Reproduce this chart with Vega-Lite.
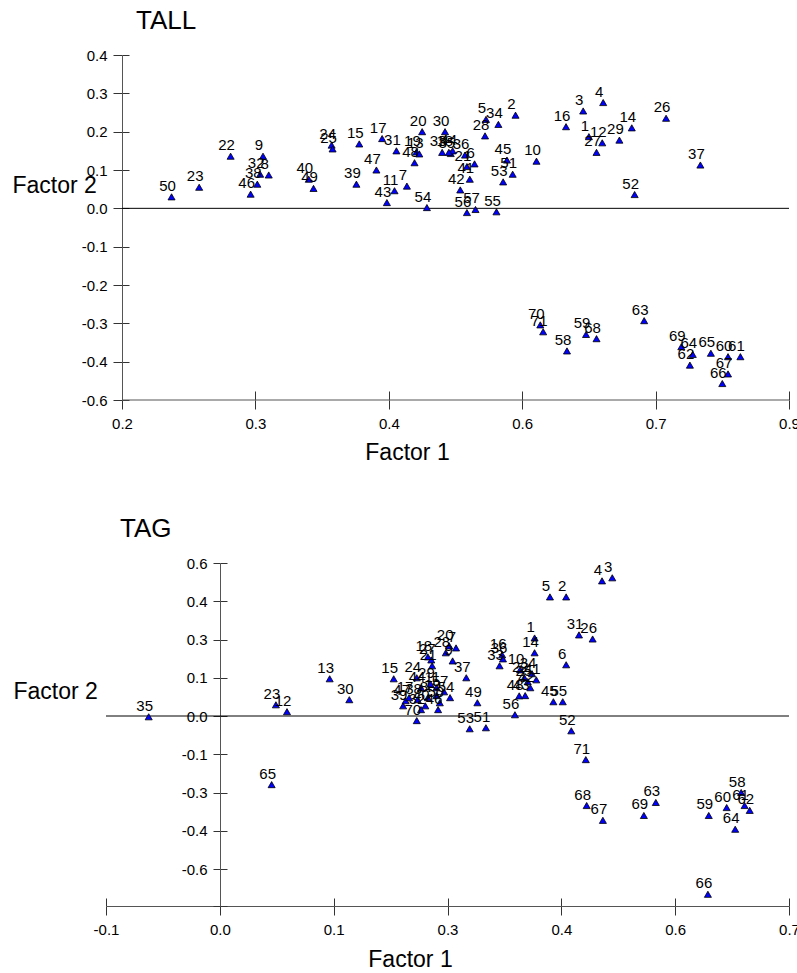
{
  "$schema": "https://vega.github.io/schema/vega-lite/v6.json",
  "background": "white",
  "padding": {"left": 12, "top": 8, "right": 4, "bottom": 2},
  "config": {
    "font": "Liberation Sans",
    "view": {"stroke": null},
    "axis": {
      "grid": false,
      "labelFont": "Liberation Sans",
      "labelFontSize": 15,
      "labelColor": "#000000",
      "titleFont": "Liberation Sans",
      "titleFontSize": 23,
      "titleFontWeight": "normal",
      "titleColor": "#000000",
      "titleAngle": 0,
      "titleBaseline": "middle",
      "domainColor": "#555555",
      "tickColor": "#333333",
      "labelFlush": false,
      "labelOverlap": false,
      "labelBound": false
    },
    "title": {"font": "Liberation Sans", "fontSize": 26, "fontWeight": "normal", "anchor": "start", "frame": "group", "baseline": "alphabetic", "offset": 14, "color": "#000000"}
  },
  "datasets": {
    "tall": [
      {"id": "50", "x": 0.252, "y": 0.030},
      {"id": "23", "x": 0.281, "y": 0.055},
      {"id": "22", "x": 0.314, "y": 0.136},
      {"id": "9", "x": 0.348, "y": 0.136},
      {"id": "32", "x": 0.345, "y": 0.089},
      {"id": "8", "x": 0.354, "y": 0.087},
      {"id": "38", "x": 0.342, "y": 0.063},
      {"id": "46", "x": 0.335, "y": 0.037},
      {"id": "24", "x": 0.420, "y": 0.165},
      {"id": "25", "x": 0.421, "y": 0.155},
      {"id": "15", "x": 0.449, "y": 0.168},
      {"id": "17", "x": 0.473, "y": 0.182},
      {"id": "31", "x": 0.488, "y": 0.150},
      {"id": "19", "x": 0.509, "y": 0.147},
      {"id": "13", "x": 0.512, "y": 0.142},
      {"id": "48", "x": 0.507, "y": 0.119},
      {"id": "47", "x": 0.467, "y": 0.100},
      {"id": "40", "x": 0.396, "y": 0.076},
      {"id": "49", "x": 0.401, "y": 0.052},
      {"id": "39", "x": 0.446, "y": 0.063},
      {"id": "11", "x": 0.486, "y": 0.046},
      {"id": "7", "x": 0.499, "y": 0.058},
      {"id": "43", "x": 0.478, "y": 0.015},
      {"id": "54", "x": 0.520, "y": 0.002},
      {"id": "20", "x": 0.515, "y": 0.200},
      {"id": "30", "x": 0.539, "y": 0.200},
      {"id": "33", "x": 0.536, "y": 0.146},
      {"id": "35", "x": 0.545, "y": 0.143},
      {"id": "44", "x": 0.547, "y": 0.150},
      {"id": "18", "x": 0.543, "y": 0.146},
      {"id": "36", "x": 0.560, "y": 0.139},
      {"id": "21", "x": 0.562, "y": 0.109},
      {"id": "6", "x": 0.570, "y": 0.116},
      {"id": "41", "x": 0.565, "y": 0.076},
      {"id": "42", "x": 0.555, "y": 0.048},
      {"id": "5", "x": 0.582, "y": 0.232},
      {"id": "34", "x": 0.595, "y": 0.219},
      {"id": "2", "x": 0.613, "y": 0.243},
      {"id": "28", "x": 0.581, "y": 0.189},
      {"id": "45", "x": 0.604, "y": 0.126},
      {"id": "51", "x": 0.610, "y": 0.089},
      {"id": "53", "x": 0.600, "y": 0.069},
      {"id": "10", "x": 0.635, "y": 0.123},
      {"id": "56", "x": 0.562, "y": -0.011},
      {"id": "57", "x": 0.571, "y": -0.003},
      {"id": "55", "x": 0.593, "y": -0.009},
      {"id": "16", "x": 0.666, "y": 0.213},
      {"id": "3", "x": 0.684, "y": 0.254},
      {"id": "4", "x": 0.705, "y": 0.276},
      {"id": "1", "x": 0.690, "y": 0.187},
      {"id": "12", "x": 0.704, "y": 0.171},
      {"id": "27", "x": 0.698, "y": 0.146},
      {"id": "29", "x": 0.722, "y": 0.178},
      {"id": "14", "x": 0.735, "y": 0.210},
      {"id": "26", "x": 0.771, "y": 0.235},
      {"id": "37", "x": 0.807, "y": 0.113},
      {"id": "52", "x": 0.738, "y": 0.036},
      {"id": "70", "x": 0.639, "y": -0.304},
      {"id": "71", "x": 0.642, "y": -0.322},
      {"id": "58", "x": 0.667, "y": -0.372},
      {"id": "59", "x": 0.687, "y": -0.329},
      {"id": "68", "x": 0.698, "y": -0.340},
      {"id": "63", "x": 0.748, "y": -0.293},
      {"id": "69", "x": 0.787, "y": -0.361},
      {"id": "64", "x": 0.799, "y": -0.381},
      {"id": "62", "x": 0.796, "y": -0.409},
      {"id": "65", "x": 0.818, "y": -0.378},
      {"id": "60", "x": 0.836, "y": -0.387},
      {"id": "61", "x": 0.849, "y": -0.387},
      {"id": "67", "x": 0.836, "y": -0.432},
      {"id": "66", "x": 0.830, "y": -0.457}
    ],
    "tag": [
      {"id": "35", "x": -0.050, "y": -0.003},
      {"id": "23", "x": 0.099, "y": 0.044},
      {"id": "12", "x": 0.112, "y": 0.017},
      {"id": "13", "x": 0.162, "y": 0.146},
      {"id": "30", "x": 0.185, "y": 0.064},
      {"id": "65", "x": 0.094, "y": -0.269},
      {"id": "15", "x": 0.237, "y": 0.146},
      {"id": "39", "x": 0.248, "y": 0.040},
      {"id": "47", "x": 0.251, "y": 0.060},
      {"id": "17", "x": 0.255, "y": 0.072},
      {"id": "24", "x": 0.264, "y": 0.150},
      {"id": "38", "x": 0.265, "y": 0.064},
      {"id": "70", "x": 0.264, "y": -0.018},
      {"id": "20", "x": 0.302, "y": 0.275},
      {"id": "7", "x": 0.310, "y": 0.267},
      {"id": "28", "x": 0.298, "y": 0.248},
      {"id": "9", "x": 0.306, "y": 0.216},
      {"id": "18", "x": 0.277, "y": 0.232},
      {"id": "27", "x": 0.281, "y": 0.220},
      {"id": "21", "x": 0.282, "y": 0.197},
      {"id": "37", "x": 0.322, "y": 0.150},
      {"id": "11", "x": 0.287, "y": 0.111},
      {"id": "44", "x": 0.269, "y": 0.111},
      {"id": "29", "x": 0.280, "y": 0.126},
      {"id": "19", "x": 0.287, "y": 0.080},
      {"id": "8", "x": 0.277, "y": 0.072},
      {"id": "40", "x": 0.274, "y": 0.040},
      {"id": "46", "x": 0.289, "y": 0.025},
      {"id": "50", "x": 0.291, "y": 0.052},
      {"id": "54", "x": 0.303, "y": 0.072},
      {"id": "57", "x": 0.296, "y": 0.095},
      {"id": "32", "x": 0.269, "y": 0.025},
      {"id": "49", "x": 0.335, "y": 0.052},
      {"id": "53", "x": 0.326, "y": -0.050},
      {"id": "51", "x": 0.345, "y": -0.046},
      {"id": "56", "x": 0.379, "y": 0.005},
      {"id": "48", "x": 0.384, "y": 0.079},
      {"id": "45", "x": 0.424, "y": 0.056},
      {"id": "55", "x": 0.435, "y": 0.056},
      {"id": "16", "x": 0.364, "y": 0.240},
      {"id": "36", "x": 0.365, "y": 0.224},
      {"id": "33", "x": 0.361, "y": 0.197},
      {"id": "1", "x": 0.402, "y": 0.306},
      {"id": "14", "x": 0.402, "y": 0.248},
      {"id": "6", "x": 0.439, "y": 0.201},
      {"id": "5", "x": 0.420, "y": 0.467},
      {"id": "2", "x": 0.439, "y": 0.467},
      {"id": "31", "x": 0.454, "y": 0.318},
      {"id": "26", "x": 0.470, "y": 0.302},
      {"id": "4", "x": 0.481, "y": 0.530},
      {"id": "3", "x": 0.493, "y": 0.542},
      {"id": "10", "x": 0.385, "y": 0.181},
      {"id": "22", "x": 0.390, "y": 0.150},
      {"id": "25", "x": 0.394, "y": 0.135},
      {"id": "34", "x": 0.399, "y": 0.166},
      {"id": "41", "x": 0.404, "y": 0.142},
      {"id": "42", "x": 0.397, "y": 0.111},
      {"id": "43", "x": 0.391, "y": 0.080},
      {"id": "52", "x": 0.445, "y": -0.058},
      {"id": "71", "x": 0.462, "y": -0.171},
      {"id": "68", "x": 0.463, "y": -0.351},
      {"id": "67", "x": 0.482, "y": -0.409},
      {"id": "63", "x": 0.544, "y": -0.339},
      {"id": "69", "x": 0.530, "y": -0.390},
      {"id": "59", "x": 0.606, "y": -0.390},
      {"id": "58", "x": 0.644, "y": -0.300},
      {"id": "60", "x": 0.627, "y": -0.359},
      {"id": "61", "x": 0.648, "y": -0.351},
      {"id": "62", "x": 0.654, "y": -0.370},
      {"id": "64", "x": 0.637, "y": -0.444},
      {"id": "66", "x": 0.605, "y": -0.699}
    ]
  },
  "columns": 1,
  "align": "none",
  "spacing": 52,
  "concat": [
    {
      "title": {"text": "TALL", "dx": 30},
      "width": 683,
      "height": 345,
      "resolve": {"axis": {"x": "independent", "y": "independent"}},
      "layer": [
        {
          "data": {"values": [{}]},
          "mark": {"type": "rule", "color": "#000000", "strokeWidth": 1},
          "encoding": {
            "x": {
              "datum": 0.2, "type": "quantitative",
              "axis": {"orient": "bottom", "title": null, "labels": false, "domain": false, "tickSize": -9, "tickCount": 20, "values": [0.2, 0.34, 0.48, 0.62, 0.76, 0.9]}
            },
            "x2": {"datum": 0.9},
            "y": {
              "datum": 0, "type": "quantitative",
              "axis": {"orient": "left", "offset": -16, "title": null, "labels": false, "domain": false, "tickSize": -7, "tickCount": 20, "values": [0.4, 0.3, 0.2, 0.1, 0, -0.1, -0.2, -0.3, -0.4, -0.5]}
            }
          }
        },
        {
          "data": {"values": [{}]},
          "mark": {"type": "rule", "color": "#555555", "strokeWidth": 1},
          "encoding": {
            "x": {"datum": 0.2, "type": "quantitative", "axis": null},
            "x2": {"datum": 0.9},
            "y": {"datum": -0.5, "type": "quantitative", "axis": null}
          }
        },
        {
          "data": {"name": "tall"},
          "mark": {"type": "point", "shape": "triangle-up", "filled": true, "fill": "#0000ff", "stroke": "#000000", "strokeWidth": 0.8, "size": 50, "opacity": 1},
          "encoding": {
            "x": {
              "field": "x", "type": "quantitative",
              "scale": {"domain": [0.18321, 0.9], "nice": false, "zero": false},
              "axis": {
                "orient": "bottom",
                "title": "Factor 1",
                "domain": false,
                "values": [0.2, 0.34, 0.48, 0.62, 0.76, 0.9],
                "tickCount": 20,
                "labelExpr": "datum.value < 0.25 ? '0.2' : datum.value < 0.4 ? '0.3' : datum.value < 0.55 ? '0.4' : datum.value < 0.7 ? '0.6' : datum.value < 0.8 ? '0.7' : '0.9'",
                "labelOverlap": false,
                "tickSize": 9, "labelPadding": 7,
                "titleX": 301, "titleY": 52, "titleAlign": "center"
              }
            },
            "y": {
              "field": "y", "type": "quantitative",
              "scale": {"domain": [-0.5, 0.4], "nice": false, "zero": false},
              "axis": {
                "orient": "left",
                "title": "Factor 2",
                "offset": -16,
                "values": [0.4, 0.3, 0.2, 0.1, 0, -0.1, -0.2, -0.3, -0.4, -0.5],
                "tickCount": 20,
                "labelExpr": "datum.value < -0.45 ? '-0.6' : (datum.value < -0.001 ? '-' : '') + format(abs(datum.value), '.1f')",
                "labelOverlap": false,
                "tickSize": 9, "labelPadding": 6,
                "titleX": -110, "titleY": 130, "titleAlign": "left"
              }
            }
          }
        },
        {
          "data": {"name": "tall"},
          "mark": {"type": "text", "fontSize": 15, "dx": -4, "dy": -6, "baseline": "alphabetic", "align": "center", "color": "#000000"},
          "encoding": {
            "x": {"field": "x", "type": "quantitative", "axis": null},
            "y": {"field": "y", "type": "quantitative", "axis": null},
            "text": {"field": "id"}
          }
        }
      ]
    },
    {
      "title": {"text": "TAG", "dx": 14},
      "width": 683,
      "height": 343,
      "resolve": {"axis": {"x": "independent", "y": "independent"}},
      "layer": [
        {
          "data": {"values": [{}]},
          "mark": {"type": "rule", "color": "#000000", "strokeWidth": 1},
          "encoding": {
            "x": {
              "datum": -0.1, "type": "quantitative",
              "axis": {"orient": "bottom", "title": null, "labels": false, "domain": false, "tickSize": -8, "tickCount": 20, "values": [-0.1, 0.03333, 0.16667, 0.3, 0.43333, 0.56667, 0.7]}
            },
            "x2": {"datum": 0.7},
            "y": {
              "datum": 0, "type": "quantitative",
              "axis": {"orient": "left", "offset": -114, "title": null, "labels": false, "domain": false, "tickSize": -7, "tickCount": 20, "values": [0.6, 0.45, 0.3, 0.15, 0, -0.15, -0.3, -0.45, -0.6, -0.745]}
            }
          }
        },
        {
          "data": {"name": "tag"},
          "mark": {"type": "point", "shape": "triangle-up", "filled": true, "fill": "#0000ff", "stroke": "#000000", "strokeWidth": 0.8, "size": 50, "opacity": 1},
          "encoding": {
            "x": {
              "field": "x", "type": "quantitative",
              "scale": {"domain": [-0.1, 0.7], "nice": false, "zero": false},
              "axis": {
                "orient": "bottom",
                "title": "Factor 1",
                "values": [-0.1, 0.03333, 0.16667, 0.3, 0.43333, 0.56667, 0.7],
                "tickCount": 20,
                "labelExpr": "datum.value < 0 ? '-0.1' : datum.value < 0.1 ? '0.0' : datum.value < 0.2 ? '0.1' : datum.value < 0.35 ? '0.3' : datum.value < 0.5 ? '0.4' : datum.value < 0.6 ? '0.6' : '0.7'",
                "labelOverlap": false,
                "tickSize": 9, "labelPadding": 7,
                "titleX": 304, "titleY": 53, "titleAlign": "center"
              }
            },
            "y": {
              "field": "y", "type": "quantitative",
              "scale": {"domain": [-0.745, 0.6], "nice": false, "zero": false},
              "axis": {
                "orient": "left",
                "title": "Factor 2",
                "offset": -114,
                "values": [0.6, 0.45, 0.3, 0.15, 0, -0.15, -0.3, -0.45, -0.6, -0.745],
                "tickCount": 20,
                "labelExpr": "datum.value < -0.7 ? '' : (datum.value < -0.001 ? '-' : '') + format(floor(abs(datum.value) * 10 + 0.001) / 10, '.1f')",
                "labelOverlap": false,
                "tickSize": 7, "labelPadding": 6,
                "titleX": -207, "titleY": 128, "titleAlign": "left"
              }
            }
          }
        },
        {
          "data": {"name": "tag"},
          "mark": {"type": "text", "fontSize": 15, "dx": -4, "dy": -6, "baseline": "alphabetic", "align": "center", "color": "#000000"},
          "encoding": {
            "x": {"field": "x", "type": "quantitative", "axis": null},
            "y": {"field": "y", "type": "quantitative", "axis": null},
            "text": {"field": "id"}
          }
        }
      ]
    }
  ]
}
